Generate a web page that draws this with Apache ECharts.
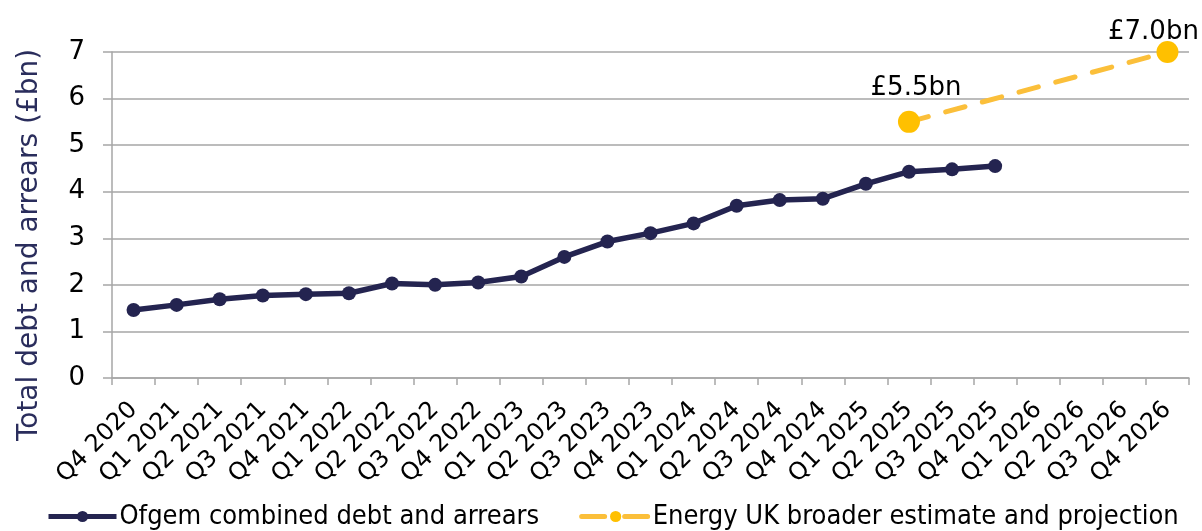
<!DOCTYPE html>
<html>
<head>
<meta charset="utf-8">
<script src="https://cdn.jsdelivr.net/npm/echarts@6/dist/echarts.min.js"></script>
<style>
html,body{margin:0;padding:0;background:#fff;}
#chart{width:1202px;height:531px;}
</style>
</head>
<body>
<div id="chart"></div>
<script>
const categories = ['Q4 2020','Q1 2021','Q2 2021','Q3 2021','Q4 2021','Q1 2022','Q2 2022','Q3 2022','Q4 2022',
  'Q1 2023','Q2 2023','Q3 2023','Q4 2023','Q1 2024','Q2 2024','Q3 2024','Q4 2024',
  'Q1 2025','Q2 2025','Q3 2025','Q4 2025','Q1 2026','Q2 2026','Q3 2026','Q4 2026'];
const ofgemDebt = [1.46,1.57,1.69,1.77,1.80,1.82,2.03,2.00,2.05,2.18,2.60,2.93,3.11,3.32,3.70,3.82,3.85,4.17,4.43,4.48,4.55,null,null,null,null];
const energyUkEstimate = [null,null,null,null,null,null,null,null,null,null,null,null,null,null,null,null,null,null,5.5,null,null,null,null,null,7.0];
const energyUkLabels = {18:'£5.5bn', 24:'£7.0bn'};
const yTicks = [0,1,2,3,4,5,6,7];
const seriesNames = ['Ofgem combined debt and arrears','Energy UK broader estimate and projection'];
const yAxisTitle = 'Total debt and arrears (£bn)';

const NAVY = '#242450';
const GOLD = '#FFC000';
const GOLD_LINE = '#FBBF3A';
const GRID = '#A6A6A6';
const FONT = '"DejaVu Sans", Verdana, sans-serif';
const LEGEND_FONT = '"DejaVu Sans Condensed","Liberation Sans Narrow", sans-serif';

const labelStyles = {
  18: {distance:10, offset:[7,0]},
  24: {distance:0, offset:[-14,4]}
};

const energyData = energyUkEstimate.map((v,i)=>{
  if (v === null) return null;
  const ls = labelStyles[i];
  return {
    value: v,
    symbolSize: 22,
    label: {show:true, formatter: energyUkLabels[i], position:'top', distance: ls.distance, offset: ls.offset,
      color:'#000', fontSize:26, fontFamily:FONT}
  };
});

const chart = echarts.init(document.getElementById('chart'), null, {renderer:'canvas'});
chart.setOption({
  animation:false,
  backgroundColor:'#fff',
  grid:{left:112, right:13, top:52, bottom:153, containLabel:false, outerBoundsMode:'none'},
  legend:{
    data: [
      {name: seriesNames[0], lineStyle:{width:5}},
      {name: seriesNames[1], lineStyle:{width:5, type:[23,20]}}
    ],
    left: 46, top: 503, padding: 0,
    itemWidth: 68, itemHeight: 14, itemGap: 40,
    textStyle:{fontSize:27, color:'#000', fontFamily:LEGEND_FONT, padding:[0,0,0,-2]}
  },
  xAxis:{
    type:'category',
    data: categories,
    boundaryGap:true,
    axisLine:{show:true, lineStyle:{color:GRID, width:1.5}},
    axisTick:{show:true, length:7, lineStyle:{color:GRID, width:1.5}},
    axisLabel:{rotate:45, margin:28, color:'#000', fontSize:24, fontFamily:FONT, interval:0},
    splitLine:{show:false}
  },
  yAxis:{
    type:'value',
    min: yTicks[0], max: yTicks[yTicks.length-1], interval:1,
    name: yAxisTitle,
    nameLocation:'middle',
    nameGap: 68,
    nameTextStyle:{color:'#2A2D5C', fontSize:28, fontFamily:FONT, padding:[0,60,0,0]},
    axisLine:{show:true, lineStyle:{color:GRID, width:1.5}},
    axisTick:{show:true, length:9, lineStyle:{color:GRID, width:1.5}},
    axisLabel:{margin:27, color:'#000', fontSize:26, fontFamily:FONT},
    splitLine:{show:true, lineStyle:{color:GRID, width:1.5}}
  },
  series:[
    {
      name: seriesNames[0],
      type:'line',
      data: ofgemDebt,
      symbol:'circle', symbolSize:14,
      lineStyle:{color:NAVY, width:5.5},
      itemStyle:{color:NAVY},
      z:3
    },
    {
      name: seriesNames[1],
      type:'line',
      data: energyData,
      connectNulls:true,
      symbol:'circle', symbolSize:22,
      lineStyle:{color:GOLD_LINE, width:5, type:[20,18], cap:'round'},
      itemStyle:{color:GOLD},
      z:4
    }
  ]
});
</script>
</body>
</html>
